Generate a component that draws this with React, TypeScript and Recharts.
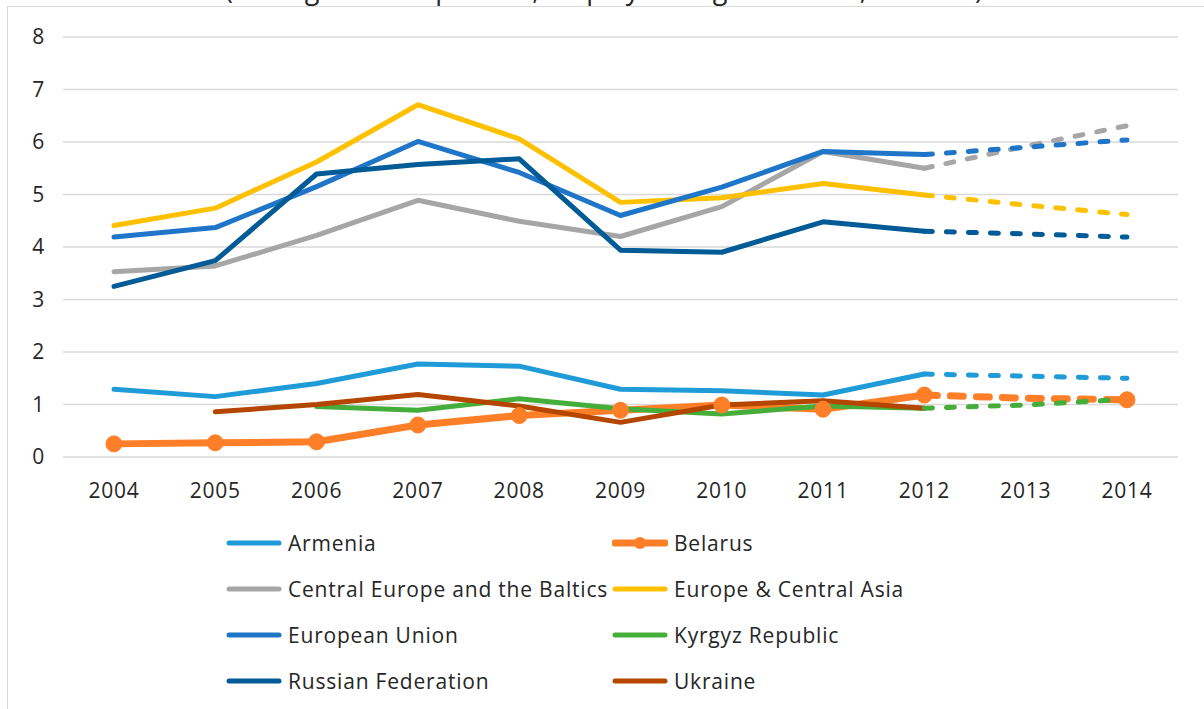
import React from "react";
import { LineChart, Line, XAxis, YAxis, CartesianGrid, Legend } from "recharts";

const years = ["2004", "2005", "2006", "2007", "2008", "2009", "2010", "2011", "2012", "2013", "2014"];

// 2004-2012 actuals, 2012-2014 projections
const armenia = [1.29, 1.15, 1.4, 1.77, 1.73, 1.29, 1.26, 1.18, 1.58];
const armeniaProj = [1.58, 1.54, 1.5];
const belarus = [0.25, 0.27, 0.29, 0.61, 0.79, 0.89, 0.99, 0.91, 1.18];
const belarusProj = [1.18, 1.12, 1.09];
const centralEurope = [3.53, 3.64, 4.22, 4.89, 4.49, 4.2, 4.77, 5.82, 5.5];
const centralEuropeProj = [5.5, 5.92, 6.31];
const europeCA = [4.41, 4.74, 5.62, 6.71, 6.06, 4.85, 4.94, 5.21, 4.99];
const europeCAProj = [4.99, 4.8, 4.62];
const eu = [4.19, 4.37, 5.15, 6.01, 5.42, 4.6, 5.14, 5.82, 5.76];
const euProj = [5.76, 5.9, 6.04];
const kyrgyz = [null, null, 0.96, 0.89, 1.11, 0.92, 0.82, 0.97, 0.93];
const kyrgyzProj = [0.93, 0.99, 1.1];
const russia = [3.25, 3.74, 5.39, 5.57, 5.68, 3.94, 3.9, 4.48, 4.3];
const russiaProj = [4.3, 4.25, 4.19];
const ukraine = [null, 0.86, 1.0, 1.19, 0.97, 0.66, 0.99, 1.07, 0.93];

const yTicks = [0, 1, 2, 3, 4, 5, 6, 7, 8];

type Series = {
  key: string;
  name: string;
  color: string;
  width: number;
  values: (number | null)[];
  proj?: number[];
  dot?: boolean;
};

const series: Series[] = [
  { key: "armenia", name: "Armenia", color: "#1f9bd7", width: 5, values: armenia, proj: armeniaProj },
  { key: "belarus", name: "Belarus", color: "#fe7f27", width: 7, values: belarus, proj: belarusProj, dot: true },
  { key: "ceb", name: "Central Europe and the Baltics", color: "#a6a6a6", width: 5, values: centralEurope, proj: centralEuropeProj },
  { key: "eca", name: "Europe & Central Asia", color: "#ffc000", width: 5, values: europeCA, proj: europeCAProj },
  { key: "eu", name: "European Union", color: "#1f76c8", width: 5, values: eu, proj: euProj },
  { key: "kgz", name: "Kyrgyz Republic", color: "#45ad3a", width: 5, values: kyrgyz, proj: kyrgyzProj },
  { key: "rus", name: "Russian Federation", color: "#005b96", width: 5, values: russia, proj: russiaProj },
  { key: "ukr", name: "Ukraine", color: "#b54600", width: 5, values: ukraine },
];

const data = years.map((year, i) => {
  const row: Record<string, any> = { year };
  series.forEach((s) => {
    row[s.key] = s.values[i] ?? null;
    if (s.proj) row[s.key + "Proj"] = i >= 8 ? s.proj[i - 8] : null;
  });
  return row;
});

const FONT = "'Open Sans', 'Noto Sans', sans-serif";

function ChartLegend() {
  return (
    <div
      style={{
        display: "grid",
        gridTemplateColumns: "386px 386px",
        fontFamily: FONT,
        fontSize: 21,
        letterSpacing: 0.8,
        color: "#262626",
      }}
    >
      {series.map((s) => (
        <div key={s.key} style={{ display: "flex", alignItems: "center", height: 46 }}>
          <svg width={56} height={18} style={{ marginRight: 6 }}>
            <line x1={3} y1={9} x2={53} y2={9} stroke={s.color} strokeWidth={s.width} strokeLinecap="round" />
            {s.dot && <circle cx={28} cy={9} r={6} fill={s.color} />}
          </svg>
          <span style={{ whiteSpace: "nowrap" }}>{s.name}</span>
        </div>
      ))}
    </div>
  );
}

export default function App() {
  const tickStyle = { fontFamily: FONT, fontSize: 21, letterSpacing: 0.8, fill: "#262626" };
  return (
    <div style={{ position: "fixed", left: 0, top: 0, width: 1204, height: 709, overflow: "hidden", background: "#fff" }}>
      <svg width={1204} height={12} style={{ position: "absolute", left: 0, top: 0 }}>
        <text x={604} y={-1} textAnchor="middle" fontFamily={FONT} fontSize={27} fill="#262626">
          (Average annual percent, employment growth rate, 2004-14)
        </text>
      </svg>
      <div
        style={{
          position: "absolute",
          left: 7,
          top: 6,
          width: 1300,
          height: 800,
          border: "1px solid #d9d9d9",
          boxSizing: "border-box",
        }}
      />
      <div style={{ position: "absolute", left: 0, top: 0 }}>
        <LineChart width={1204} height={709} data={data} margin={{ top: 37, right: 26, left: 8, bottom: 222 }}>
          <CartesianGrid vertical={false} stroke="#d9d9d9" strokeWidth={1.5} />
          <XAxis
            dataKey="year"
            axisLine={false}
            tickLine={false}
            tick={tickStyle}
            tickMargin={20}
            padding={{ left: 51, right: 51 }}
            interval={0}
            height={30}
          />
          <YAxis
            domain={[0, 8]}
            ticks={yTicks}
            axisLine={false}
            tickLine={false}
            tick={tickStyle}
            tickMargin={12}
            width={55}
          />
          {series.map((s) => (
            <Line
              key={s.key}
              dataKey={s.key}
              name={s.name}
              stroke={s.color}
              strokeWidth={s.width}
              strokeLinecap="round"
              strokeLinejoin="round"
              type="linear"
              connectNulls={false}
              dot={s.dot ? { r: 8, fill: s.color, stroke: s.color, strokeWidth: 1 } : false}
              activeDot={false}
              isAnimationActive={false}
            />
          ))}
          {series
            .filter((s) => s.proj)
            .map((s) => (
              <Line
                key={s.key + "Proj"}
                dataKey={s.key + "Proj"}
                stroke={s.color}
                strokeWidth={s.width}
                strokeLinecap="round"
                strokeDasharray={s.dot ? "13 13" : "8 14"}
                type="linear"
                legendType="none"
                dot={
                  s.dot
                    ? (p: any) =>
                        p.payload.year === "2014" ? (
                          <circle key={p.key} cx={p.cx} cy={p.cy} r={8} fill={s.color} stroke={s.color} />
                        ) : (
                          <g key={p.key} />
                        )
                    : false
                }
                activeDot={false}
                isAnimationActive={false}
              />
            ))}
          <Legend
            layout="vertical"
            align="center"
            verticalAlign="middle"
            wrapperStyle={{ left: 226, top: 520, width: 800 }}
            content={() => <ChartLegend />}
          />
        </LineChart>
      </div>
    </div>
  );
}
